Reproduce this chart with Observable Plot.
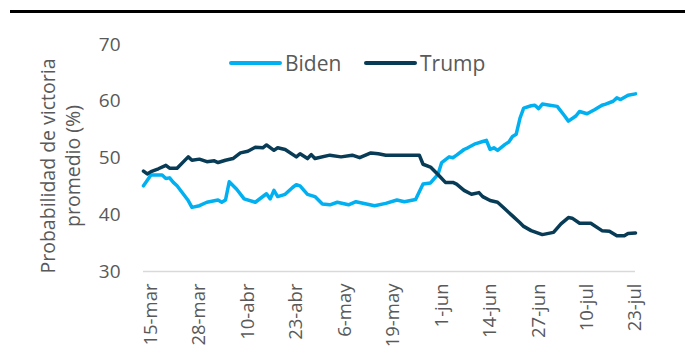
<!DOCTYPE html>
<html>
<head>
<meta charset="utf-8">
<script src="https://cdn.jsdelivr.net/npm/d3@7"></script>
<script src="https://cdn.jsdelivr.net/npm/@observablehq/plot@0.6"></script>
<style>
  html, body { margin: 0; padding: 0; background: #fff; }
  #wrap { position: relative; width: 685px; height: 354px; font-family: "Open Sans", sans-serif; }
  #rule { position: absolute; left: 10px; top: 10px; width: 675px; height: 3px; background: #000; }
  .leg { position: absolute; top: 49px; font-size: 21px; color: #595959; display: flex; align-items: center; }
  .leg span.sw { display: inline-block; width: 53px; height: 4px; border-radius: 2px; margin-right: 3px; }
</style>
</head>
<body>
<div id="wrap">
  <div id="rule"></div>
  <div id="chart"></div>
  <div class="leg" style="left:229px"><span class="sw" style="background:#00B0F0"></span>Biden</div>
  <div class="leg" style="left:364px"><span class="sw" style="background:#083B56"></span>Trump</div>
</div>
<script>
const bidenDates = ["2020-03-13","2020-03-15","2020-03-18","2020-03-19","2020-03-20","2020-03-21","2020-03-22","2020-03-25","2020-03-26","2020-03-28","2020-03-30","2020-04-02","2020-04-03","2020-04-04","2020-04-05","2020-04-07","2020-04-09","2020-04-12","2020-04-15","2020-04-16","2020-04-17","2020-04-18","2020-04-20","2020-04-22","2020-04-23","2020-04-24","2020-04-26","2020-04-28","2020-04-30","2020-05-02","2020-05-04","2020-05-07","2020-05-09","2020-05-14","2020-05-17","2020-05-20","2020-05-22","2020-05-25","2020-05-27","2020-05-29","2020-05-31","2020-06-01","2020-06-03","2020-06-04","2020-06-05","2020-06-07","2020-06-08","2020-06-10","2020-06-12","2020-06-13","2020-06-14","2020-06-15","2020-06-16","2020-06-18","2020-06-19","2020-06-20","2020-06-21","2020-06-22","2020-06-23","2020-06-25","2020-06-26","2020-06-27","2020-06-28","2020-06-30","2020-07-02","2020-07-04","2020-07-05","2020-07-07","2020-07-08","2020-07-10","2020-07-12","2020-07-14","2020-07-15","2020-07-17","2020-07-18","2020-07-19","2020-07-21","2020-07-23"];
const bidenValues = [45.1,47.0,47.0,46.4,46.5,45.7,45.1,42.5,41.3,41.6,42.2,42.6,42.2,42.6,45.8,44.5,42.8,42.2,43.7,42.8,44.3,43.2,43.6,44.8,45.3,45.1,43.6,43.2,41.9,41.75,42.2,41.75,42.3,41.6,42.0,42.6,42.3,42.7,45.4,45.6,47.1,49.2,50.2,50.05,50.5,51.5,51.8,52.5,52.9,53.1,51.5,51.8,51.35,52.4,52.8,53.8,54.2,57.0,58.8,59.2,59.3,58.7,59.5,59.3,59.1,57.4,56.5,57.4,58.2,57.8,58.5,59.3,59.5,60.0,60.6,60.3,61.05,61.3];

const trumpDates = ["2020-03-13","2020-03-14","2020-03-15","2020-03-17","2020-03-19","2020-03-20","2020-03-22","2020-03-25","2020-03-26","2020-03-28","2020-03-30","2020-04-01","2020-04-02","2020-04-04","2020-04-06","2020-04-08","2020-04-10","2020-04-12","2020-04-14","2020-04-15","2020-04-17","2020-04-18","2020-04-20","2020-04-23","2020-04-24","2020-04-26","2020-04-27","2020-04-28","2020-05-02","2020-05-05","2020-05-08","2020-05-10","2020-05-13","2020-05-15","2020-05-17","2020-05-21","2020-05-26","2020-05-27","2020-05-29","2020-05-31","2020-06-02","2020-06-04","2020-06-05","2020-06-07","2020-06-09","2020-06-11","2020-06-12","2020-06-14","2020-06-16","2020-06-18","2020-06-19","2020-06-20","2020-06-22","2020-06-23","2020-06-25","2020-06-28","2020-07-01","2020-07-03","2020-07-05","2020-07-06","2020-07-08","2020-07-11","2020-07-14","2020-07-16","2020-07-18","2020-07-20","2020-07-21","2020-07-23"];
const trumpValues = [47.7,47.2,47.6,48.1,48.7,48.2,48.2,50.2,49.6,49.8,49.35,49.5,49.2,49.6,49.9,50.9,51.2,51.9,51.8,52.3,51.35,51.8,51.5,50.2,50.75,49.9,50.6,49.9,50.5,50.2,50.5,50.05,50.9,50.75,50.5,50.5,50.5,48.9,48.4,47.1,45.7,45.7,45.4,44.3,43.6,43.9,43.2,42.5,42.2,41.0,40.4,39.8,38.6,37.95,37.2,36.5,36.9,38.4,39.5,39.4,38.5,38.5,37.2,37.1,36.3,36.3,36.7,36.8];

const tickDates = ["2020-03-15","2020-03-28","2020-04-10","2020-04-23","2020-05-06","2020-05-19","2020-06-01","2020-06-14","2020-06-27","2020-07-10","2020-07-23"];
const tickLabels = ["15-mar","28-mar","10-abr","23-abr","6-may","19-may","1-jun","14-jun","27-jun","10-jul","23-jul"];
const yTicks = [30, 40, 50, 60, 70];
const yLabel = "Probabilidad de victoria\npromedio (%)";

const seriesNames = ["Biden", "Trump"];
const seriesColors = ["#00B0F0", "#083B56"];

const parse = d3.utcParse("%Y-%m-%d");
const data = [
  ...bidenDates.map((d, i) => ({series: "Biden", date: parse(d), value: bidenValues[i]})),
  ...trumpDates.map((d, i) => ({series: "Trump", date: parse(d), value: trumpValues[i]}))
];
const ticks = tickDates.map(parse);
const labelOf = new Map(ticks.map((t, i) => [+t, tickLabels[i]]));

const chart = Plot.plot({
  width: 685,
  height: 354,
  marginLeft: 143,
  marginRight: 50,
  marginTop: 44,
  marginBottom: 83,
  style: {fontFamily: "'Open Sans', sans-serif", color: "#595959", background: "transparent"},
  x: {type: "utc", domain: [parse("2020-03-13"), parse("2020-07-23")]},
  y: {domain: [30, 70]},
  color: {domain: seriesNames, range: seriesColors},
  marks: [
    Plot.ruleY([30], {stroke: "#d9d9d9", strokeWidth: 1.5}),
    Plot.axisY({ticks: yTicks, tickSize: 0, tickPadding: 23, fontSize: 19, label: null, fill: "#595959"}),
    Plot.axisX({ticks: ticks, tickFormat: d => labelOf.get(+d), tickSize: 0, tickPadding: 12, tickRotate: -90, fontSize: 18.5, label: null, fill: "#595959"}),
    Plot.text([yLabel], {frameAnchor: "left", textAnchor: "middle", lineAnchor: "middle", dx: -84, dy: 8, rotate: -90, fontSize: 19.5, lineHeight: 1.3, fill: "#595959"}),
    Plot.line(data, {x: "date", y: "value", z: "series", stroke: "series", strokeWidth: 3.5, curve: "linear"})
  ]
});
document.getElementById("chart").appendChild(chart);
</script>
</body>
</html>
